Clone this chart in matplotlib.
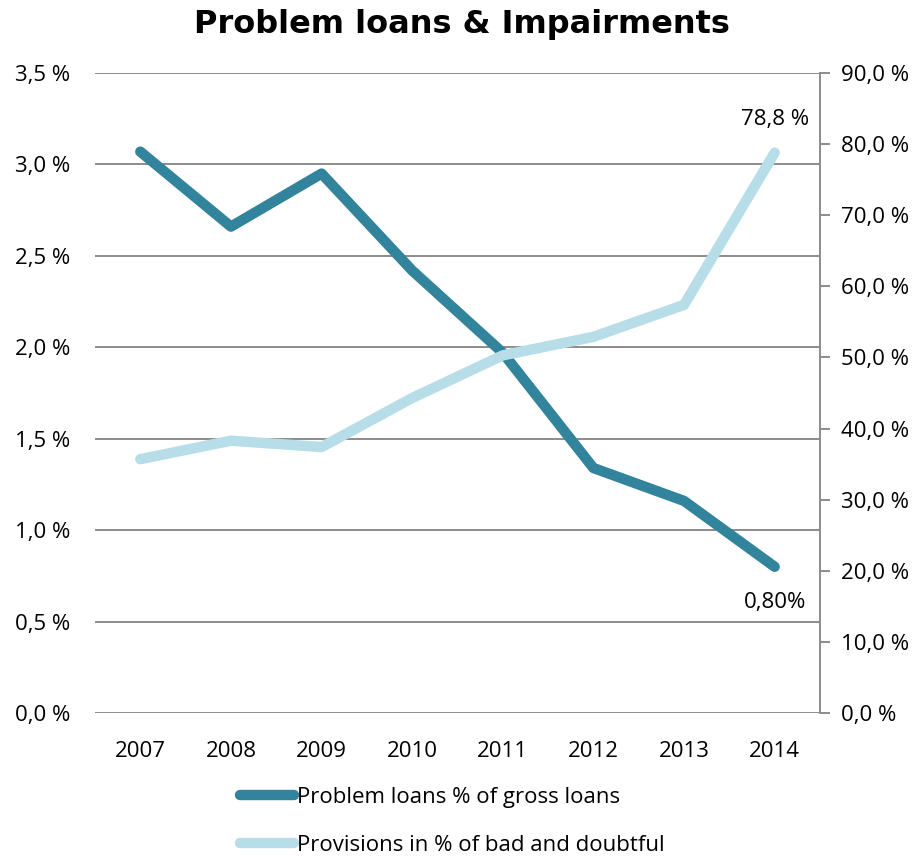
import matplotlib.pyplot as plt
from matplotlib.ticker import FuncFormatter, MultipleLocator

years = ["2007", "2008", "2009", "2010", "2011", "2012", "2013", "2014"]
problem_loans = [3.07, 2.66, 2.95, 2.42, 1.97, 1.34, 1.16, 0.80]
provisions = [35.7, 38.3, 37.4, 44.3, 50.3, 52.9, 57.4, 78.8]

DARK = "#31849b"
LIGHT = "#b7dde8"
GRID = "#8c8c8c"
FS = 16

plt.rcParams['font.family'] = ['Open Sans', 'DejaVu Sans']

fig = plt.figure(figsize=(9.17, 8.56), dpi=100)
ax = fig.add_axes([0.1036, 0.167, 0.7906, 0.7477])
ax2 = ax.twinx()

x = list(range(len(years)))

ax.plot(x, problem_loans, color=DARK, lw=7.5, solid_capstyle='round',
        solid_joinstyle='round', label="Problem loans % of gross loans", zorder=3)
ax2.plot(x, provisions, color=LIGHT, lw=7.5, solid_capstyle='round',
         solid_joinstyle='round', label="Provisions in % of bad and doubtful", zorder=3)

# left axis: percent of gross loans, with the horizontal grid
ax.set_xlim(-0.5, len(years) - 0.5)
ax.set_ylim(0, 3.5)
ax.yaxis.set_major_locator(MultipleLocator(0.5))
ax.yaxis.set_major_formatter(FuncFormatter(lambda v, p: f"{v:.1f} %".replace(".", ",")))
ax.grid(axis='y', color=GRID, lw=1.4)
ax.set_axisbelow(True)
ax.set_xticks(x)
ax.set_xticklabels(years)
ax.tick_params(axis='both', length=0, labelsize=FS)
ax.tick_params(axis='x', pad=20)
ax.tick_params(axis='y', pad=18)
for s in ax.spines.values():
    s.set_visible(False)

# right axis: provisions
ax2.set_ylim(0, 90)
ax2.yaxis.set_major_locator(MultipleLocator(10))
ax2.yaxis.set_major_formatter(FuncFormatter(lambda v, p: f"{v:.1f} %".replace(".", ",")))
ax2.tick_params(axis='y', length=7, width=1.4, color=GRID, labelsize=FS, pad=8)
for name, s in ax2.spines.items():
    s.set_visible(name == 'right')
ax2.spines['right'].set_color(GRID)
ax2.spines['right'].set_linewidth(1.4)

ax2.annotate(f"{provisions[-1]:.1f} %".replace(".", ","), (x[-1], provisions[-1]),
             xytext=(0, 16), textcoords='offset points', ha='center', va='bottom',
             fontsize=FS)
ax.annotate(f"{problem_loans[-1]:.2f}%".replace(".", ","), (x[-1], problem_loans[-1]),
            xytext=(0, -18), textcoords='offset points', ha='center', va='top',
            fontsize=FS)

fig.suptitle("Problem loans & Impairments", x=0.504, y=0.99, fontsize=23,
             fontweight='bold', family='DejaVu Sans')

h1, l1 = ax.get_legend_handles_labels()
h2, l2 = ax2.get_legend_handles_labels()
fig.legend(h1 + h2, l1 + l2, loc='upper left', bbox_to_anchor=(0.252, 0.091),
           ncol=1, frameon=False, fontsize=FS, handlelength=2.45,
           handletextpad=0.1, labelspacing=1.2, borderaxespad=0)

fig.savefig("out.png", dpi=100)
